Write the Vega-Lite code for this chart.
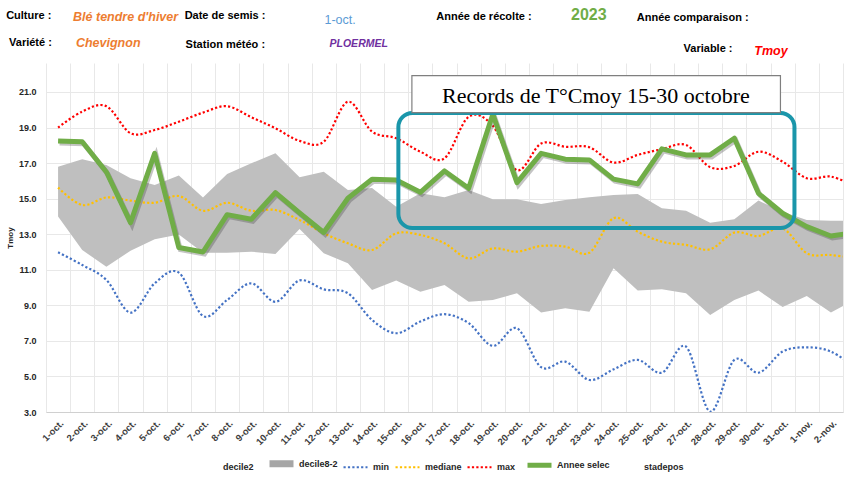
{
  "$schema": "https://vega.github.io/schema/vega-lite/v6.json",
  "description": "Tmoy journalière, Ploermel, semis 1-oct., récolte 2023",
  "autosize": {"type": "none"},
  "padding": {"left": 46, "top": 63, "right": 7, "bottom": 65},
  "width": 797,
  "height": 349,
  "background": "white",
  "config": {
    "view": {"stroke": null},
    "font": "Liberation Sans Narrow, Liberation Sans",
    "legend": {
      "orient": "none",
      "legendX": 144,
      "legendY": 385,
      "direction": "horizontal",
      "columns": 7,
      "symbolType": "stroke",
      "symbolSize": 576,
      "labelFontSize": 9,
      "labelFontWeight": "bold",
      "labelColor": "#262626",
      "labelOffset": 2,
      "columnPadding": 1
    }
  },
  "datasets": {
    "temp": [
      {"j": 1, "decile2": 13.99, "decile8": 16.8, "min": 11.98, "mediane": 15.62, "max": 19.0, "Annee selec": 18.24},
      {"j": 2, "decile2": 12.11, "decile8": 17.21, "min": 11.27, "mediane": 14.64, "max": 19.9, "Annee selec": 18.2},
      {"j": 3, "decile2": 11.17, "decile8": 16.89, "min": 10.43, "mediane": 15.07, "max": 20.2, "Annee selec": 16.5},
      {"j": 4, "decile2": 12.07, "decile8": 16.15, "min": 8.59, "mediane": 14.89, "max": 18.68, "Annee selec": 13.65},
      {"j": 5, "decile2": 12.71, "decile8": 15.77, "min": 10.24, "mediane": 14.77, "max": 18.86, "Annee selec": 17.55},
      {"j": 6, "decile2": 12.99, "decile8": 16.3, "min": 10.84, "mediane": 15.15, "max": 19.33, "Annee selec": 12.25},
      {"j": 7, "decile2": 11.96, "decile8": 15.07, "min": 8.4, "mediane": 14.32, "max": 19.84, "Annee selec": 12.0},
      {"j": 8, "decile2": 11.96, "decile8": 16.39, "min": 9.3, "mediane": 14.77, "max": 20.2, "Annee selec": 14.1},
      {"j": 9, "decile2": 12.02, "decile8": 16.99, "min": 10.24, "mediane": 14.32, "max": 19.58, "Annee selec": 13.84},
      {"j": 10, "decile2": 11.89, "decile8": 17.55, "min": 9.2, "mediane": 14.36, "max": 18.96, "Annee selec": 15.34},
      {"j": 11, "decile2": 13.3, "decile8": 16.2, "min": 10.4, "mediane": 13.8, "max": 18.25, "Annee selec": 14.2},
      {"j": 12, "decile2": 11.93, "decile8": 16.52, "min": 9.9, "mediane": 13.05, "max": 18.2, "Annee selec": 13.1},
      {"j": 13, "decile2": 11.37, "decile8": 15.49, "min": 9.68, "mediane": 12.49, "max": 20.45, "Annee selec": 15.02},
      {"j": 14, "decile2": 9.86, "decile8": 15.6, "min": 8.18, "mediane": 12.11, "max": 18.77, "Annee selec": 16.09},
      {"j": 15, "decile2": 10.39, "decile8": 14.55, "min": 7.43, "mediane": 13.05, "max": 18.4, "Annee selec": 16.05},
      {"j": 16, "decile2": 9.77, "decile8": 15.3, "min": 8.09, "mediane": 12.96, "max": 17.64, "Annee selec": 15.36},
      {"j": 17, "decile2": 10.14, "decile8": 15.08, "min": 8.5, "mediane": 12.49, "max": 17.27, "Annee selec": 16.56},
      {"j": 18, "decile2": 9.2, "decile8": 15.49, "min": 8.0, "mediane": 11.64, "max": 19.6, "Annee selec": 15.58},
      {"j": 19, "decile2": 9.3, "decile8": 14.96, "min": 6.72, "mediane": 12.2, "max": 19.1, "Annee selec": 19.75},
      {"j": 20, "decile2": 9.68, "decile8": 14.96, "min": 7.71, "mediane": 12.02, "max": 16.6, "Annee selec": 15.9},
      {"j": 21, "decile2": 8.59, "decile8": 14.7, "min": 5.52, "mediane": 12.34, "max": 18.1, "Annee selec": 17.55},
      {"j": 22, "decile2": 8.83, "decile8": 14.93, "min": 5.83, "mediane": 12.3, "max": 17.92, "Annee selec": 17.22},
      {"j": 23, "decile2": 8.64, "decile8": 15.08, "min": 4.8, "mediane": 11.96, "max": 17.89, "Annee selec": 17.18},
      {"j": 24, "decile2": 11.08, "decile8": 15.2, "min": 5.4, "mediane": 13.9, "max": 17.03, "Annee selec": 16.1},
      {"j": 25, "decile2": 9.83, "decile8": 15.26, "min": 5.93, "mediane": 13.14, "max": 17.46, "Annee selec": 15.83},
      {"j": 26, "decile2": 9.9, "decile8": 14.46, "min": 5.21, "mediane": 12.58, "max": 17.78, "Annee selec": 17.8},
      {"j": 27, "decile2": 9.68, "decile8": 14.32, "min": 6.68, "mediane": 12.4, "max": 18.02, "Annee selec": 17.46},
      {"j": 28, "decile2": 8.46, "decile8": 13.65, "min": 3.02, "mediane": 12.15, "max": 16.77, "Annee selec": 17.46},
      {"j": 29, "decile2": 9.3, "decile8": 13.84, "min": 5.93, "mediane": 13.09, "max": 16.84, "Annee selec": 18.4},
      {"j": 30, "decile2": 9.83, "decile8": 14.89, "min": 5.21, "mediane": 12.9, "max": 17.64, "Annee selec": 15.3},
      {"j": 31, "decile2": 8.9, "decile8": 14.27, "min": 6.4, "mediane": 13.33, "max": 17.08, "Annee selec": 14.18},
      {"j": 32, "decile2": 9.53, "decile8": 13.8, "min": 6.64, "mediane": 11.93, "max": 16.15, "Annee selec": 13.43},
      {"j": 33, "decile2": 8.59, "decile8": 13.76, "min": 6.4, "mediane": 11.83, "max": 16.24, "Annee selec": 12.9},
      {"j": 34, "decile2": 9.33, "decile8": 13.76, "min": 5.5, "mediane": 11.65, "max": 15.7, "Annee selec": 13.1}
    ],
    "entete": [
      {"champ": "libelle", "texte": "Culture :", "j": -1.15, "v": 25.27},
      {"champ": "libelle", "texte": "Date de semis :", "j": 6.24, "v": 25.27},
      {"champ": "libelle", "texte": "Année de récolte :", "j": 16.66, "v": 25.22},
      {"champ": "libelle", "texte": "Année comparaison :", "j": 24.96, "v": 25.16},
      {"champ": "libelle", "texte": "Variété :", "j": -1.03, "v": 23.76},
      {"champ": "libelle", "texte": "Station météo :", "j": 6.28, "v": 23.64},
      {"champ": "libelle", "texte": "Variable :", "j": 26.9, "v": 23.42},
      {"champ": "culture", "texte": "Blé tendre d'hiver", "j": 1.62, "v": 25.22},
      {"champ": "culture", "texte": "Chevignon", "j": 1.74, "v": 23.76},
      {"champ": "semis", "texte": "1-oct.", "j": 12.03, "v": 25.05},
      {"champ": "recolte", "texte": "2023", "j": 22.24, "v": 25.33},
      {"champ": "station", "texte": "PLOERMEL", "j": 12.24, "v": 23.7},
      {"champ": "variable", "texte": "Tmoy", "j": 29.83, "v": 23.31}
    ]
  },
  "layer": [
    {
      "data": {"name": "temp"},
      "mark": {"type": "area", "color": "#BFBFBF", "clip": true},
      "encoding": {
        "x": {
          "field": "j",
          "type": "quantitative",
          "title": null,
          "scale": {"domain": [0.5, 33.5], "nice": false, "zero": false},
          "axis": {
            "values": [0.5, 1, 1.5, 2, 2.5, 3, 3.5, 4, 4.5, 5, 5.5, 6, 6.5, 7, 7.5, 8, 8.5, 9, 9.5, 10, 10.5, 11, 11.5, 12, 12.5, 13, 13.5, 14, 14.5, 15, 15.5, 16, 16.5, 17, 17.5, 18, 18.5, 19, 19.5, 20, 20.5, 21, 21.5, 22, 22.5, 23, 23.5, 24, 24.5, 25, 25.5, 26, 26.5, 27, 27.5, 28, 28.5, 29, 29.5, 30, 30.5, 31, 31.5, 32, 32.5, 33, 33.5],
            "tickCount": 200,
            "labelExpr": "datum.value % 1 == 0 ? (datum.value <= 31 ? datum.value + '-oct.' : (datum.value - 31) + '-nov.') : ''",
            "labelAngle": -45,
            "labelOverlap": false,
            "labelFontSize": 9.5,
            "labelFontWeight": "bold",
            "labelColor": "#404040",
            "labelPadding": 6,
            "ticks": false,
            "grid": true,
            "gridColor": {"condition": {"test": "datum.value % 1 == 0", "value": "transparent"}, "value": "#E8E8E8"},
            "domainColor": "#D0D0D0"
          }
        },
        "y": {
          "field": "decile8",
          "type": "quantitative",
          "title": "Tmoy",
          "scale": {"domain": [3, 22.63], "nice": false, "zero": false},
          "axis": {
            "values": [3, 5, 7, 9, 11, 13, 15, 17, 19, 21],
            "tickCount": 50,
            "format": ".1f",
            "labelOverlap": false,
            "grid": true,
            "gridColor": "#E8E8E8",
            "domain": false,
            "ticks": false,
            "labelFontSize": 9,
            "labelFontWeight": "bold",
            "labelColor": "#262626",
            "labelPadding": 10,
            "titleFontSize": 8,
            "titleFontWeight": "bold",
            "titleColor": "#262626",
            "titlePadding": 4
          }
        },
        "y2": {"field": "decile2"}
      }
    },
    {
      "data": {"name": "temp"},
      "transform": [{"fold": ["min", "mediane", "max"], "as": ["serie", "valeur"]}],
      "mark": {"type": "line", "interpolate": "cardinal", "clip": true},
      "encoding": {
        "x": {"field": "j", "type": "quantitative", "title": null},
        "y": {"field": "valeur", "type": "quantitative", "title": "Tmoy"},
        "color": {
          "field": "serie",
          "type": "nominal",
          "legend": {"title": null},
          "scale": {
            "domain": ["decile2", "decile8-2", "min", "mediane", "max", "Annee selec", "stadepos"],
            "range": ["transparent", "#A6A6A6", "#4472C4", "#FFC000", "#FF0000", "#70AD47", "transparent"]
          }
        },
        "strokeDash": {
          "field": "serie",
          "type": "nominal",
          "legend": {"title": null},
          "scale": {
            "domain": ["decile2", "decile8-2", "min", "mediane", "max", "Annee selec", "stadepos"],
            "range": [[1, 0], [1, 0], [2.2, 2.2], [2.2, 2.2], [2.2, 2.2], [1, 0], [1, 0]]
          }
        },
        "strokeWidth": {
          "field": "serie",
          "type": "nominal",
          "legend": {"title": null},
          "scale": {
            "type": "ordinal",
            "domain": ["decile2", "decile8-2", "min", "mediane", "max", "Annee selec", "stadepos"],
            "range": [1, 7, 2.2, 2.2, 2.2, 5, 1]
          }
        }
      }
    },
    {
      "data": {"name": "temp"},
      "mark": {"type": "line", "color": "#3A3A3A", "opacity": 0.3, "strokeWidth": 5, "xOffset": 1.5, "yOffset": 2, "clip": true},
      "encoding": {
        "x": {"field": "j", "type": "quantitative", "title": null},
        "y": {"field": "Annee selec", "type": "quantitative", "title": "Tmoy"}
      }
    },
    {
      "data": {"name": "temp"},
      "mark": {"type": "line", "color": "#70AD47", "strokeWidth": 5, "strokeJoin": "round", "clip": true},
      "encoding": {
        "x": {"field": "j", "type": "quantitative", "title": null},
        "y": {"field": "Annee selec", "type": "quantitative", "title": "Tmoy"}
      }
    },
    {
      "data": {"values": [{"zone": "records"}]},
      "mark": {"type": "rect", "filled": false, "stroke": "#1A96AA", "strokeWidth": 4, "cornerRadius": 14},
      "encoding": {
        "x": {"datum": 15.09, "type": "quantitative", "title": null},
        "x2": {"datum": 31.49},
        "y": {"datum": 19.82, "type": "quantitative", "title": "Tmoy"},
        "y2": {"datum": 13.35}
      }
    },
    {
      "data": {"values": [{"zone": "records"}]},
      "mark": {"type": "rect", "color": "#8C8C8C", "opacity": 0.7, "xOffset": 2, "yOffset": 2},
      "encoding": {
        "x": {"datum": 15.65, "type": "quantitative", "title": null},
        "x2": {"datum": 30.91},
        "y": {"datum": 21.92, "type": "quantitative", "title": "Tmoy"},
        "y2": {"datum": 19.84}
      }
    },
    {
      "data": {"values": [{"zone": "records"}]},
      "mark": {"type": "rect", "fill": "white", "stroke": "#7F7F7F", "strokeWidth": 1.2},
      "encoding": {
        "x": {"datum": 15.65, "type": "quantitative", "title": null},
        "x2": {"datum": 30.91},
        "y": {"datum": 21.92, "type": "quantitative", "title": "Tmoy"},
        "y2": {"datum": 19.84}
      }
    },
    {
      "data": {"values": [{"zone": "records"}]},
      "mark": {"type": "text", "text": "Records de T°Cmoy 15-30 octobre", "font": "Liberation Serif", "fontSize": 22, "color": "#000000", "align": "center", "baseline": "middle"},
      "encoding": {
        "x": {"datum": 23.27, "type": "quantitative", "title": null},
        "y": {"datum": 20.8, "type": "quantitative", "title": "Tmoy"}
      }
    },
    {
      "data": {"name": "entete"},
      "transform": [{"filter": "datum.champ == 'libelle'"}],
      "mark": {"type": "text", "align": "left", "baseline": "middle", "fontSize": 11, "fontWeight": "bold", "color": "#000000"},
      "encoding": {
        "x": {"field": "j", "type": "quantitative", "title": null},
        "y": {"field": "v", "type": "quantitative", "title": "Tmoy"},
        "text": {"field": "texte"}
      }
    },
    {
      "data": {"name": "entete"},
      "transform": [{"filter": "datum.champ == 'culture'"}],
      "mark": {"type": "text", "align": "left", "baseline": "middle", "fontSize": 12.5, "fontWeight": "bold", "fontStyle": "italic", "color": "#ED7D31"},
      "encoding": {
        "x": {"field": "j", "type": "quantitative", "title": null},
        "y": {"field": "v", "type": "quantitative", "title": "Tmoy"},
        "text": {"field": "texte"}
      }
    },
    {
      "data": {"name": "entete"},
      "transform": [{"filter": "datum.champ == 'semis'"}],
      "mark": {"type": "text", "align": "left", "baseline": "middle", "fontSize": 12.5, "color": "#5B9BD5"},
      "encoding": {
        "x": {"field": "j", "type": "quantitative", "title": null},
        "y": {"field": "v", "type": "quantitative", "title": "Tmoy"},
        "text": {"field": "texte"}
      }
    },
    {
      "data": {"name": "entete"},
      "transform": [{"filter": "datum.champ == 'recolte'"}],
      "mark": {"type": "text", "align": "left", "baseline": "middle", "fontSize": 16, "fontWeight": "bold", "color": "#70AD47"},
      "encoding": {
        "x": {"field": "j", "type": "quantitative", "title": null},
        "y": {"field": "v", "type": "quantitative", "title": "Tmoy"},
        "text": {"field": "texte"}
      }
    },
    {
      "data": {"name": "entete"},
      "transform": [{"filter": "datum.champ == 'station'"}],
      "mark": {"type": "text", "align": "left", "baseline": "middle", "fontSize": 10.5, "fontWeight": "bold", "fontStyle": "italic", "color": "#7030A0"},
      "encoding": {
        "x": {"field": "j", "type": "quantitative", "title": null},
        "y": {"field": "v", "type": "quantitative", "title": "Tmoy"},
        "text": {"field": "texte"}
      }
    },
    {
      "data": {"name": "entete"},
      "transform": [{"filter": "datum.champ == 'variable'"}],
      "mark": {"type": "text", "align": "left", "baseline": "middle", "fontSize": 12.5, "fontWeight": "bold", "fontStyle": "italic", "color": "#FF0000"},
      "encoding": {
        "x": {"field": "j", "type": "quantitative", "title": null},
        "y": {"field": "v", "type": "quantitative", "title": "Tmoy"},
        "text": {"field": "texte"}
      }
    }
  ]
}
